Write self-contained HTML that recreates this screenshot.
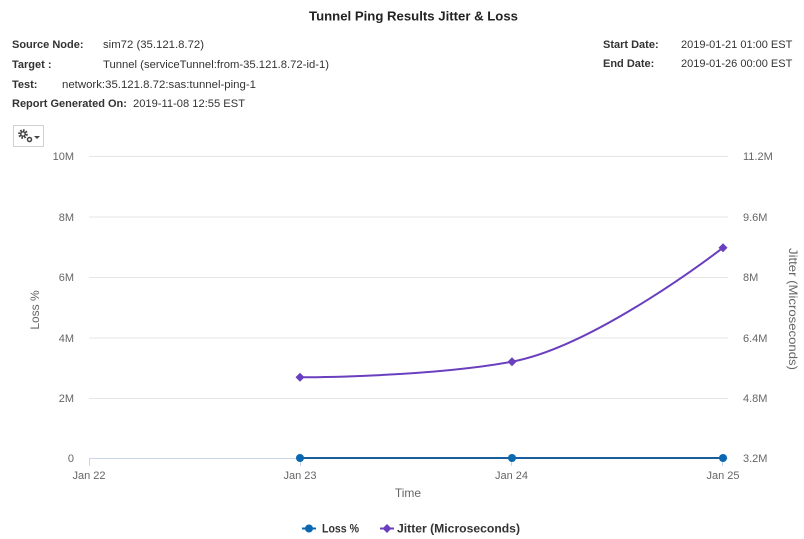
<!DOCTYPE html>
<html><head><meta charset="utf-8"><style>
html,body{margin:0;padding:0;background:#fff;}
body{width:804px;height:539px;overflow:hidden;font-family:"Liberation Sans",sans-serif;}
svg{display:block;}
</style></head><body>
<svg width="804" height="539" xmlns="http://www.w3.org/2000/svg" font-family="Liberation Sans, sans-serif">
<rect width="804" height="539" fill="#fff"/>
<text x="309" y="20.5" font-size="13" font-weight="bold" fill="#222" textLength="209" lengthAdjust="spacingAndGlyphs">Tunnel Ping Results Jitter &amp; Loss</text>
<g font-size="11" fill="#333">
<text x="12" y="48" font-weight="bold">Source Node:</text><text x="103" y="48" textLength="101" lengthAdjust="spacingAndGlyphs">sim72 (35.121.8.72)</text>
<text x="12" y="68" font-weight="bold">Target :</text><text x="103" y="68" textLength="226" lengthAdjust="spacingAndGlyphs">Tunnel (serviceTunnel:from-35.121.8.72-id-1)</text>
<text x="12" y="88" font-weight="bold">Test:</text><text x="62" y="88" textLength="194" lengthAdjust="spacingAndGlyphs">network:35.121.8.72:sas:tunnel-ping-1</text>
<text x="12" y="107" font-weight="bold">Report Generated On:</text><text x="133" y="107" textLength="112" lengthAdjust="spacingAndGlyphs">2019-11-08 12:55 EST</text>
<text x="603" y="48" font-weight="bold">Start Date:</text><text x="681" y="48">2019-01-21 01:00 EST</text>
<text x="603" y="67" font-weight="bold">End Date:</text><text x="681" y="67">2019-01-26 00:00 EST</text>
</g>
<rect x="13.5" y="125.5" width="30" height="21" fill="#fff" stroke="#d0d0d0"/>
<circle cx="23" cy="134" r="3.6" fill="none" stroke="#444" stroke-width="2.4" stroke-dasharray="1.6 1.2"/>
<circle cx="23" cy="134" r="2.2" fill="none" stroke="#444" stroke-width="1.4"/>
<circle cx="29.5" cy="139.5" r="2" fill="none" stroke="#444" stroke-width="1.5"/>
<path d="M34 136 L40 136 L37 139 Z" fill="#444"/>
<g stroke="#e6e6e6" stroke-width="1">
<line x1="89" y1="156.5" x2="728" y2="156.5"/>
<line x1="89" y1="217" x2="728" y2="217"/>
<line x1="89" y1="277.5" x2="728" y2="277.5"/>
<line x1="89" y1="338" x2="728" y2="338"/>
<line x1="89" y1="398.5" x2="728" y2="398.5"/>
</g>
<line x1="89" y1="458.5" x2="728" y2="458.5" stroke="#ccd6eb"/>
<g stroke="#ccd6eb"><line x1="89.5" y1="458" x2="89.5" y2="466"/><line x1="300.5" y1="458" x2="300.5" y2="466"/><line x1="511.5" y1="458" x2="511.5" y2="466"/><line x1="722.5" y1="458" x2="722.5" y2="466"/></g>
<g font-size="11" fill="#666" text-anchor="end">
<text x="74" y="160">10M</text><text x="74" y="221">8M</text><text x="74" y="281">6M</text><text x="74" y="342">4M</text><text x="74" y="402">2M</text><text x="74" y="462">0</text>
</g>
<g font-size="11" fill="#666" text-anchor="start">
<text x="743" y="160">11.2M</text><text x="743" y="221">9.6M</text><text x="743" y="281">8M</text><text x="743" y="342">6.4M</text><text x="743" y="402">4.8M</text><text x="743" y="462">3.2M</text>
</g>
<g font-size="11" fill="#666" text-anchor="middle">
<text x="89" y="479">Jan 22</text><text x="300" y="479">Jan 23</text><text x="511.5" y="479">Jan 24</text><text x="723" y="479">Jan 25</text>
</g>
<text x="408" y="497" font-size="12" fill="#666" text-anchor="middle">Time</text>
<text transform="translate(39,310) rotate(-90)" font-size="12" fill="#666" text-anchor="middle">Loss %</text>
<text transform="translate(789,248) rotate(90)" font-size="12" fill="#666" textLength="122" lengthAdjust="spacingAndGlyphs">Jitter (Microseconds)</text>
<path d="M300 458 L723 458" stroke="#1b5e9e" stroke-width="2" fill="none"/>
<g fill="#0b68b0"><circle cx="300" cy="458" r="4"/><circle cx="512" cy="458" r="4"/><circle cx="723" cy="458" r="4"/></g>
<path d="M300 377.3 C300 377.3 427.2 377.3 512 361.7 C596.4 346.1 723 247.7 723 247.7" stroke="#6a3fbf" stroke-width="2" fill="none"/>
<g fill="#6a3fbf">
<path d="M300 372.8 L304.5 377.3 L300 381.8 L295.5 377.3 Z"/>
<path d="M512 357.2 L516.5 361.7 L512 366.2 L507.5 361.7 Z"/>
<path d="M723 243.2 L727.5 247.7 L723 252.2 L718.5 247.7 Z"/>
</g>
<line x1="302" y1="528.5" x2="316" y2="528.5" stroke="#0b68b0" stroke-width="2"/>
<circle cx="309" cy="528.5" r="4" fill="#0b68b0"/>
<text x="322" y="532.5" font-size="11.5" font-weight="bold" fill="#333" textLength="37" lengthAdjust="spacingAndGlyphs">Loss %</text>
<line x1="380" y1="528.5" x2="394" y2="528.5" stroke="#6a3fbf" stroke-width="2"/>
<path d="M387 524 L391.5 528.5 L387 533 L382.5 528.5 Z" fill="#6a3fbf"/>
<text x="397" y="532.5" font-size="11.5" font-weight="bold" fill="#333" textLength="123" lengthAdjust="spacingAndGlyphs">Jitter (Microseconds)</text>
</svg>
</body></html>
